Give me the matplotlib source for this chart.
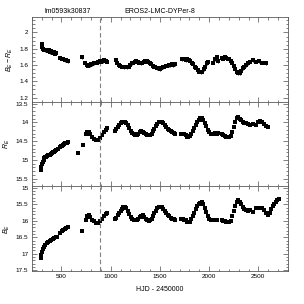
import matplotlib
matplotlib.use('Agg')
import matplotlib.pyplot as plt
from matplotlib.ticker import MultipleLocator, FormatStrFormatter

plt.rcParams['font.family'] = ['Liberation Sans', 'DejaVu Sans']
plt.rcParams['mathtext.fontset'] = 'custom'
plt.rcParams['mathtext.rm'] = 'Liberation Sans'
plt.rcParams['mathtext.it'] = 'Liberation Sans:italic'

star_id = 'lm0593k30837'
field_id = 'EROS2-LMC-DYPer-8'
t_mark = 895

# B_E - R_E colour
t_col = [298, 305, 315, 325, 335, 345, 355, 365, 375, 385, 395, 405, 415, 425, 435, 445,
         490, 505, 520, 535, 550, 565, 705,
         740, 755, 770, 785, 800, 815, 830, 845, 860, 875, 890, 905, 920, 935, 950, 960,
         1050, 1065, 1080, 1095, 1110, 1125, 1140, 1155, 1170, 1185, 1200, 1215, 1230, 1245,
         1260, 1275, 1290, 1305, 1320, 1335, 1350, 1365, 1380, 1395, 1410, 1425, 1440, 1455,
         1470, 1485, 1500, 1515, 1530, 1545, 1560, 1575, 1590, 1605, 1620, 1635, 1650,
         1720, 1735, 1750, 1765, 1780, 1795, 1810, 1825, 1840, 1855, 1870, 1885, 1900, 1915,
         1930, 1945, 1960, 1975, 1990, 2040, 2060, 2080, 2095,
         2130, 2145, 2160, 2175, 2190, 2205, 2220, 2235, 2250, 2265, 2280, 2295, 2310, 2325,
         2340, 2355, 2370, 2390, 2420, 2450, 2480, 2510, 2540, 2560, 2580]
col = [1.86, 1.82, 1.80, 1.79, 1.78, 1.79, 1.78, 1.77, 1.78, 1.76, 1.77, 1.76, 1.75, 1.76, 1.74, 1.75,
       1.69, 1.68, 1.67, 1.66, 1.66, 1.65, 1.70,
       1.62, 1.60, 1.59, 1.60, 1.61, 1.61, 1.62, 1.63, 1.63, 1.64, 1.65, 1.64, 1.65, 1.66, 1.65, 1.64,
       1.66, 1.63, 1.60, 1.59, 1.58, 1.58, 1.57, 1.58, 1.57, 1.58, 1.60, 1.62, 1.63, 1.64,
       1.65, 1.64, 1.63, 1.62, 1.63, 1.64, 1.65, 1.65, 1.64, 1.63, 1.61, 1.59, 1.58, 1.57,
       1.56, 1.56, 1.55, 1.56, 1.57, 1.58, 1.59, 1.59, 1.60, 1.60, 1.61, 1.60, 1.61,
       1.67, 1.68, 1.67, 1.66, 1.67, 1.66, 1.65, 1.63, 1.61, 1.58, 1.56, 1.54, 1.52, 1.51,
       1.52, 1.55, 1.58, 1.62, 1.64, 1.63, 1.67, 1.70, 1.65,
       1.69, 1.68, 1.70, 1.69, 1.68, 1.67, 1.65, 1.62, 1.59, 1.55, 1.52, 1.50, 1.50, 1.53,
       1.56, 1.58, 1.60, 1.62, 1.64, 1.66, 1.64, 1.65, 1.63, 1.63, 1.62]
col_err = 0.02

# R_E magnitude
t_r = [290, 296, 302, 310, 318, 326, 334, 342, 350, 358, 366, 374, 382, 390, 398, 406, 414, 422,
       430, 445, 460,
       490, 500, 510, 520, 530, 540, 555, 565,
       670, 720,
       745, 760, 775, 790, 810, 830, 850, 870, 890, 910, 930, 950, 965,
       1040, 1055, 1070, 1085, 1100, 1115, 1130, 1145, 1160, 1175, 1190, 1205, 1220, 1235,
       1250, 1265, 1280, 1295, 1310, 1325, 1340, 1355, 1370, 1385, 1400, 1415, 1430, 1445,
       1460, 1475, 1490, 1505, 1520, 1535, 1550, 1565, 1580, 1595, 1610, 1625, 1640, 1655,
       1715, 1730, 1745, 1760, 1775, 1790, 1805, 1820, 1835, 1850, 1865, 1880, 1895, 1910,
       1925, 1940, 1955, 1970, 1985, 2000, 2015, 2030, 2045, 2060, 2075, 2090,
       2130, 2145, 2160, 2175, 2190, 2205, 2220, 2235, 2250, 2265, 2280, 2295, 2310, 2325,
       2340, 2355, 2370, 2390, 2420, 2450, 2480, 2500, 2520, 2540, 2560, 2580, 2595]
r_mag = [15.28, 15.20, 15.12, 15.05, 15.00, 14.95, 14.93, 14.92, 14.90, 14.90, 14.88, 14.87, 14.86,
         14.85, 14.83, 14.82, 14.80, 14.78, 14.76, 14.74, 14.72,
         14.66, 14.64, 14.62, 14.60, 14.58, 14.56, 14.54, 14.52,
         14.82, 14.60,
         14.30, 14.26, 14.25, 14.30, 14.38, 14.44, 14.48, 14.47, 14.42, 14.34, 14.26, 14.20, 14.16,
         14.22, 14.17, 14.12, 14.07, 14.03, 14.00, 13.98, 13.98, 14.02, 14.08, 14.15, 14.22, 14.28,
         14.32, 14.34, 14.33, 14.30, 14.26, 14.24, 14.25, 14.28, 14.32, 14.34, 14.35, 14.34, 14.30,
         14.24, 14.17, 14.10, 14.04, 14.00, 13.98, 13.99, 14.02, 14.07, 14.12, 14.17, 14.21, 14.24,
         14.27, 14.29, 14.30,
         14.30, 14.30, 14.32, 14.35, 14.38, 14.39, 14.37, 14.30, 14.22, 14.14, 14.06, 13.99, 13.93,
         13.89, 13.88, 13.93, 14.02, 14.11, 14.20, 14.27, 14.31, 14.32, 14.30, 14.29, 14.30, 14.28,
         14.32, 14.34, 14.36, 14.38, 14.39, 14.38, 14.36, 14.25, 14.12, 13.98, 13.88, 13.86, 13.90,
         13.95, 13.98, 14.01, 14.03, 14.05, 14.06, 14.05, 14.08, 14.00, 13.97, 14.00, 14.05, 14.10,
         14.13]

# B_E magnitude
t_b = [290, 295, 300, 310, 320, 335, 350, 365, 380, 395, 410, 425, 440, 455,
       490, 505, 520, 535, 550, 565,
       710,
       745, 760, 775, 790, 810, 830, 850, 870, 890, 910, 930, 950, 965,
       1040, 1055, 1070, 1085, 1100, 1115, 1130, 1145, 1160, 1175, 1190, 1205, 1220, 1235,
       1250, 1265, 1280, 1295, 1310, 1325, 1340, 1355, 1370, 1385, 1400, 1415, 1430, 1445,
       1460, 1475, 1490, 1505, 1520, 1535, 1550, 1565, 1580, 1595, 1610, 1625, 1640, 1655,
       1715, 1730, 1745, 1760, 1775, 1790, 1805, 1820, 1835, 1850, 1865, 1880, 1895, 1910,
       1925, 1940, 1955, 1970, 1985, 2000, 2015, 2030, 2045, 2060, 2075,
       2130, 2145, 2160, 2175, 2190, 2205, 2220, 2235, 2250, 2265, 2280, 2295, 2310, 2325,
       2340, 2355, 2370, 2390, 2420, 2450, 2480, 2500, 2520, 2540, 2560, 2580, 2600, 2615,
       2630, 2645, 2660, 2675, 2690, 2705]
b_mag = [17.12, 17.05, 16.95, 16.85, 16.78, 16.72, 16.68, 16.64, 16.60, 16.57, 16.54, 16.52, 16.50,
         16.48,
         16.36, 16.32, 16.28, 16.24, 16.21, 16.19,
         16.30,
         15.98, 15.86, 15.83, 15.88, 15.96, 16.02, 16.06, 16.07, 16.02, 15.93, 15.85, 15.80, 15.77,
         15.95, 15.90, 15.83, 15.76, 15.69, 15.63, 15.59, 15.58, 15.62, 15.70, 15.79, 15.87, 15.93,
         15.97, 15.99, 15.97, 15.93, 15.88, 15.84, 15.83, 15.87, 15.93, 15.98, 16.00, 15.99, 15.93,
         15.85, 15.77, 15.69, 15.62, 15.58, 15.57, 15.59, 15.63, 15.69, 15.75, 15.81, 15.86, 15.90,
         15.93, 15.95, 15.96,
         15.93, 15.94, 15.96, 15.99, 16.03, 16.05, 16.03, 15.95, 15.85, 15.75, 15.65, 15.56, 15.49,
         15.45, 15.44, 15.50, 15.62, 15.74, 15.85, 15.93, 15.97, 15.98, 15.96, 15.96, 15.97,
         15.98, 16.00, 16.02, 16.03, 16.04, 16.03, 16.00, 15.85, 15.70, 15.55, 15.42, 15.38, 15.42,
         15.50, 15.57, 15.63, 15.67, 15.70, 15.68, 15.72, 15.62, 15.60, 15.60, 15.62, 15.66, 15.75,
         15.82, 15.75, 15.65, 15.55, 15.48, 15.42, 15.37, 15.33]

col_ticks = [1.2, 1.4, 1.6, 1.8, 2.0]
r_ticks = [13.5, 14, 14.5, 15, 15.5]
b_ticks = [15, 15.5, 16, 16.5, 17, 17.5]

fig, axes = plt.subplots(3, 1, figsize=(3.04, 3.04), dpi=100, sharex=True)
fig.subplots_adjust(left=0.105, right=0.947, top=0.944, bottom=0.109, hspace=0)

ax1, ax2, ax3 = axes
ax1.errorbar(t_col, col, yerr=col_err, fmt='s', color='black', ms=2.8, mew=0,
             elinewidth=0.6, capsize=0)
ax2.plot(t_r, r_mag, 's', color='black', ms=3.0, mew=0)
ax3.plot(t_b, b_mag, 's', color='black', ms=3.0, mew=0)

ax1.set_ylim(1.15, 2.19)
ax1.set_yticks(col_ticks)
ax1.yaxis.set_minor_locator(MultipleLocator(0.05))
ax2.set_ylim(15.7, 13.45)
ax2.set_yticks(r_ticks)
ax3.set_ylim(17.52, 14.95)
ax3.set_yticks(b_ticks)
for ax in (ax2, ax3):
    ax.yaxis.set_minor_locator(MultipleLocator(0.1))

ax3.set_xlim(200, 2800)
ax3.xaxis.set_major_locator(MultipleLocator(500))
ax3.xaxis.set_minor_locator(MultipleLocator(100))

for ax in axes:
    ax.axvline(t_mark, color='0.5', lw=0.8, dashes=(4, 2.5))
    ax.yaxis.set_major_formatter(FormatStrFormatter('%g'))
    ax.tick_params(which='both', direction='in', top=True, right=True,
                   labelsize=4.6, width=0.5, color='0.3', pad=2.5)
    ax.tick_params(which='major', length=3.5)
    ax.tick_params(which='minor', length=1.8)
    for s in ax.spines.values():
        s.set_linewidth(0.6)
        s.set_color('0.35')

ax1.set_ylabel(r'$B_E - R_E$', fontsize=5, labelpad=3)
ax2.set_ylabel(r'$R_E$', fontsize=5, labelpad=3)
ax3.set_ylabel(r'$B_E$', fontsize=5, labelpad=3)
ax3.set_xlabel('HJD - 2450000', fontsize=5, labelpad=5)

ax1.text(0.05, 1.02, star_id, transform=ax1.transAxes, fontsize=5, ha='left', va='bottom')
ax1.text(0.363, 1.02, field_id, transform=ax1.transAxes, fontsize=5, ha='left', va='bottom')

plt.savefig('out.png', dpi=100)
plt.close()
